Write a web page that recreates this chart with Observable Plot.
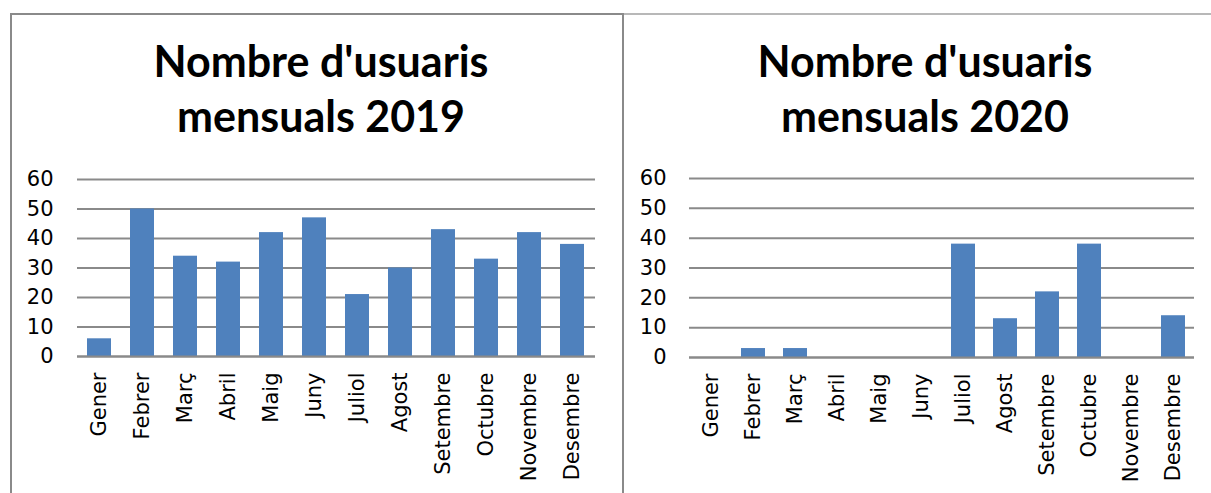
<!DOCTYPE html>
<html>
<head>
<meta charset="utf-8">
<script src="https://cdn.jsdelivr.net/npm/d3@7"></script>
<script src="https://cdn.jsdelivr.net/npm/@observablehq/plot@0.6"></script>
<style>
  html, body { margin: 0; padding: 0; background: #fff; }
  #page { position: relative; width: 1211px; height: 493px; overflow: hidden; background: #fff; }
  .line { position: absolute; }
  .title { position: absolute; width: 600px; text-align: center; font-family: Lato, "Open Sans", sans-serif; font-weight: 700; font-size: 43px; line-height: 55px; color: #000; }
  .chart { position: absolute; top: 160px; }
</style>
</head>
<body>
<div id="page">
  <div class="line" style="left:10px; top:13px; width:614px; height:2px; background:#8a8a8a;"></div>
  <div class="line" style="left:624px; top:13px; width:587px; height:2px; background:#b8b8b8;"></div>
  <div class="line" style="left:10px; top:13px; width:2px; height:480px; background:#8a8a8a;"></div>
  <div class="line" style="left:622px; top:13px; width:2px; height:480px; background:#8a8a8a;"></div>
  <div class="title" id="t1" style="left:21px; top:33px;"></div>
  <div class="title" id="t2" style="left:625px; top:33px;"></div>
  <div class="chart" id="c1" style="left:0px;"></div>
  <div class="chart" id="c2" style="left:625px;"></div>
</div>
<script>
const months = ["Gener","Febrer","Març","Abril","Maig","Juny","Juliol","Agost","Setembre","Octubre","Novembre","Desembre"];
const users2019 = [6, 50, 34, 32, 42, 47, 21, 30, 43, 33, 42, 38];
const users2020 = [0, 3, 3, 0, 0, 0, 38, 13, 22, 38, 0, 14];
const yTicks = [0, 10, 20, 30, 40, 50, 60];
const titles = [["Nombre d'usuaris", "mensuals 2019"], ["Nombre d'usuaris", "mensuals 2020"]];

function makeChart(values, o) {
  const data = months.map((m, i) => ({month: m, value: values[i]}));
  return Plot.plot({
    width: o.width,
    height: 333,
    marginLeft: o.ml,
    marginRight: o.mr,
    marginTop: o.mt,
    marginBottom: o.mb,
    style: {fontFamily: "'DejaVu Sans', sans-serif", fontSize: "21px", color: "#000", background: "transparent", overflow: "visible"},
    x: {domain: months, paddingInner: 0.44, paddingOuter: 0.22, label: null, tickSize: 0, tickRotate: -90, tickPadding: 16},
    y: {domain: [0, 60], ticks: yTicks, label: null, tickSize: 0, tickPadding: o.tp},
    marks: [
      Plot.gridY(yTicks, {stroke: "#8a8a8a", strokeOpacity: 1, strokeWidth: 2}),
      Plot.barY(data, {x: "month", y: "value", fill: "#4f81bd"}),
      Plot.ruleY([0], {stroke: "#8a8a8a", strokeWidth: 2})
    ]
  });
}

document.getElementById("t1").innerHTML = titles[0].join("<br>");
document.getElementById("t2").innerHTML = titles[1].join("<br>");
document.getElementById("c1").append(makeChart(users2019, {width: 625, ml: 77, mr: 30, mt: 19, mb: 137, tp: 24}));
document.getElementById("c2").append(makeChart(users2020, {width: 586, ml: 64, mr: 17, mt: 18, mb: 136, tp: 23}));
</script>
</body>
</html>
